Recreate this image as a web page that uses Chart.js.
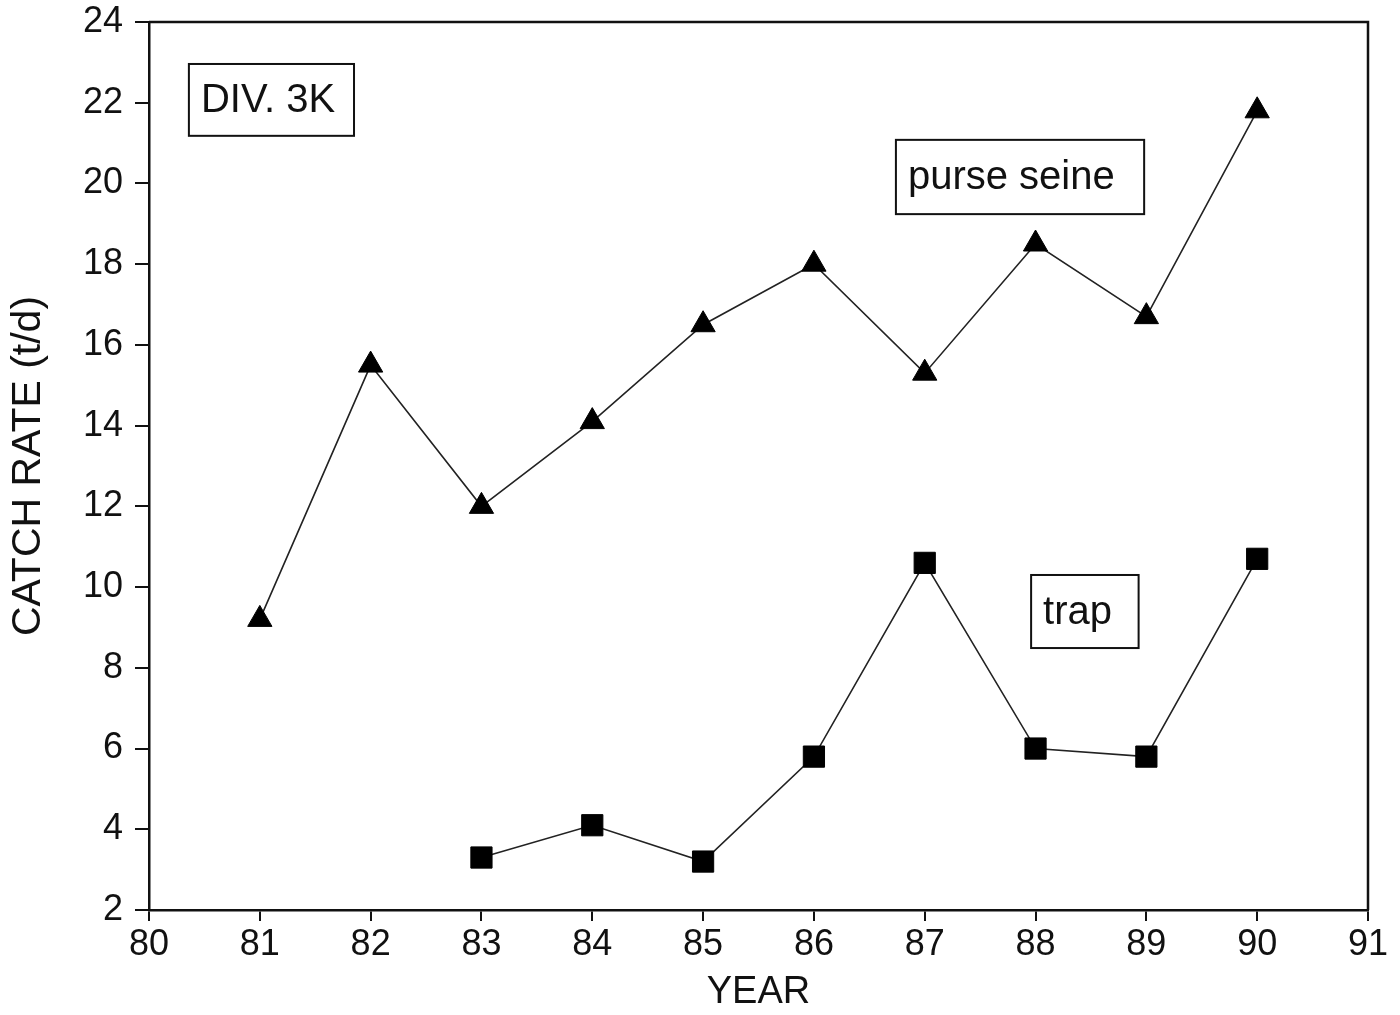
<!DOCTYPE html>
<html>
<head>
<meta charset="utf-8">
<script src="https://cdn.jsdelivr.net/npm/chart.js@4/dist/chart.umd.min.js"></script>
<style>
  html, body { margin: 0; padding: 0; background: #fff; }
  #wrap { width: 1400px; height: 1015px; position: relative; }
</style>
</head>
<body>
<div id="wrap"><canvas id="c" width="1400" height="1015"></canvas></div>
<script>
// ---- data ----
const purseYears  = [81, 82, 83, 84, 85, 86, 87, 88, 89, 90];
const purseValues = [9.2, 15.5, 12.0, 14.1, 16.5, 18.0, 15.3, 18.5, 16.7, 21.8];
const trapYears   = [83, 84, 85, 86, 87, 88, 89, 90];
const trapValues  = [3.3, 4.1, 3.2, 5.8, 10.6, 6.0, 5.8, 10.7];
const xTickLabels = ['80','81','82','83','84','85','86','87','88','89','90','91'];
const yTickLabels = ['2','4','6','8','10','12','14','16','18','20','22','24'];
const labelTexts  = ['DIV. 3K', 'purse seine', 'trap'];

const FONT = "'Liberation Sans', Arial, Helvetica, sans-serif";

const annotations = [
  { text: labelTexts[0], x0: 80.36, x1: 81.85, y0: 22.96, y1: 21.18 },
  { text: labelTexts[1], x0: 86.74, x1: 88.98, y0: 21.08, y1: 19.24 },
  { text: labelTexts[2], x0: 87.96, x1: 88.93, y0: 10.30, y1: 8.49 }
];

const boxPlugin = {
  id: 'boxes',
  afterDatasetsDraw(chart) {
    const ctx = chart.ctx, xs = chart.scales.x, ys = chart.scales.y;
    const a = chart.chartArea;
    ctx.save();
    ctx.strokeStyle = '#111';
    ctx.lineWidth = 2.5;
    ctx.beginPath();
    ctx.moveTo(a.left, a.top);
    ctx.lineTo(a.right, a.top);
    ctx.lineTo(a.right, a.bottom);
    ctx.stroke();
    ctx.lineWidth = 2;
    ctx.font = '40px ' + FONT;
    ctx.textBaseline = 'middle';
    ctx.textAlign = 'left';
    annotations.forEach(b => {
      const l = xs.getPixelForValue(b.x0), r = xs.getPixelForValue(b.x1);
      const t = ys.getPixelForValue(b.y0), btm = ys.getPixelForValue(b.y1);
      ctx.fillStyle = '#fff';
      ctx.fillRect(l, t, r - l, btm - t);
      ctx.strokeRect(l, t, r - l, btm - t);
      ctx.fillStyle = '#111';
      ctx.fillText(b.text, l + 12, (t + btm) / 2 + 1);
    });
    ctx.restore();
  }
};

const toPts = (xs, ys) => xs.map((x, i) => ({ x: x, y: ys[i] }));

new Chart(document.getElementById('c'), {
  type: 'line',
  data: {
    datasets: [
      {
        label: 'purse seine',
        data: toPts(purseYears, purseValues),
        borderColor: '#222',
        borderWidth: 1.6,
        pointStyle: 'triangle',
        pointRadius: 14,
        pointBackgroundColor: '#000',
        pointBorderColor: '#000',
        pointBorderWidth: 1,
        tension: 0
      },
      {
        label: 'trap',
        data: toPts(trapYears, trapValues),
        borderColor: '#222',
        borderWidth: 1.6,
        pointStyle: 'rect',
        pointRadius: 15,
        pointBackgroundColor: '#000',
        pointBorderColor: '#000',
        pointBorderWidth: 1,
        tension: 0
      }
    ]
  },
  options: {
    responsive: false,
    animation: false,
    layout: { padding: { top: 22, right: 32, left: 0, bottom: 0 } },
    plugins: { legend: { display: false }, tooltip: { enabled: false } },
    scales: {
      x: {
        type: 'linear',
        min: 80, max: 91,
        afterFit(s) { s.height = 105; s.paddingLeft = 0; s.paddingRight = 0; },
        ticks: {
          stepSize: 1,
          color: '#111',
          font: { family: FONT, size: 36 },
          padding: 2,
          maxRotation: 0,
          callback: (v) => xTickLabels[v - 80]
        },
        grid: { drawOnChartArea: false, drawTicks: true, tickLength: 11, color: '#111', lineWidth: 2 },
        border: { display: true, color: '#111', width: 2.5 },
        title: { display: true, text: 'YEAR', color: '#111', font: { family: FONT, size: 38 }, padding: { top: 0, bottom: 0 } }
      },
      y: {
        type: 'linear',
        min: 2, max: 24,
        afterFit(s) { s.width = 149; s.paddingTop = 0; s.paddingBottom = 0; },
        ticks: {
          stepSize: 2,
          color: '#111',
          font: { family: FONT, size: 36 },
          padding: 12,
          callback: (v) => yTickLabels[(v - 2) / 2]
        },
        grid: { drawOnChartArea: false, drawTicks: true, tickLength: 14, color: '#111', lineWidth: 2 },
        border: { display: true, color: '#111', width: 2.5 },
        title: { display: true, text: 'CATCH RATE (t/d)', color: '#111', font: { family: FONT, size: 41 }, padding: { top: 4, bottom: 0 } }
      }
    }
  },
  plugins: [boxPlugin]
});
</script>
</body>
</html>
